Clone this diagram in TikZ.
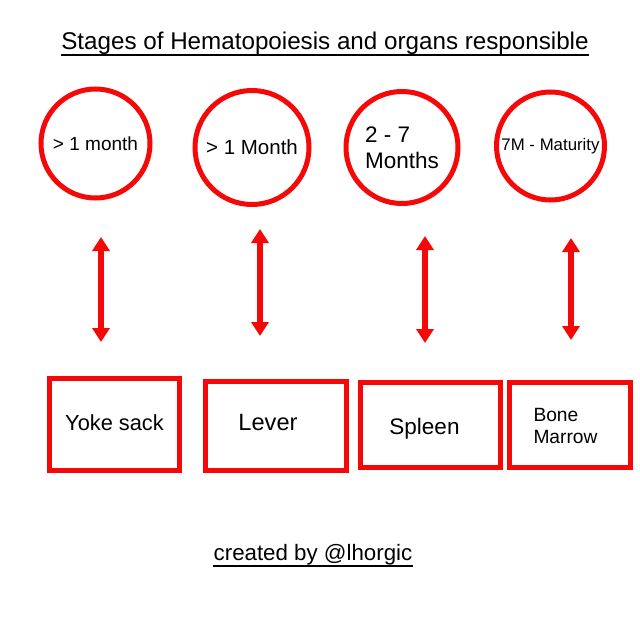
\documentclass[tikz,border=0pt]{standalone}
\usepackage{fontspec}
\setmainfont{Liberation Sans}
\usetikzlibrary{arrows.meta}
\definecolor{hemred}{RGB}{245,8,8}
\tikzset{
  stage/.style={circle, draw=hemred, line width=5pt, inner sep=0pt,
                minimum size=108pt, align=center},
  organ/.style={rectangle, draw=hemred, line width=5pt, inner sep=0pt},
  organtext/.style={inner sep=0pt, align=left},
  link/.style={{Triangle[width=17pt,length=14pt]}-{Triangle[width=17pt,length=14pt]},
               hemred, line width=6pt},
  heading/.style={inner sep=0pt, anchor=base},
}

\begin{document}
\begin{tikzpicture}[x=1pt,y=-1pt]
  \useasboundingbox (0,0) rectangle (640,640);
  % Title
  \node[heading, font=\fontsize{24.2}{28}\selectfont] (title) at (325,49)
    {Stages of Hematopoiesis and organs responsible};
  \draw[line width=1.5pt] ([yshift=-6pt]title.base west) -- ([yshift=-6pt]title.base east);
  % Stages
  \node[stage, minimum size=109pt, font=\fontsize{19}{22}\selectfont] (c1) at (95.5,143.5) {> 1 month};
  \node[stage, minimum size=114pt, font=\fontsize{20.5}{24}\selectfont] (c2) at (252,147.5) {> 1 Month};
  \node[stage, minimum size=112pt, align=left, font=\fontsize{22.5}{26}\selectfont] (c3) at (402,147.5) {2 - 7\\Months};
  \node[stage, minimum size=108pt, font=\fontsize{16.8}{20}\selectfont] (c4) at (550.5,146) {7M - Maturity};
  % Arrows
  \coordinate (a1t) at (101,237); \coordinate (a1b) at (101,342);
  \coordinate (a2t) at (260,229); \coordinate (a2b) at (260,336);
  \coordinate (a3t) at (425,236); \coordinate (a3b) at (425,343);
  \coordinate (a4t) at (571,238); \coordinate (a4b) at (571,340);
  \draw[link] (a1t) -- (a1b);
  \draw[link] (a2t) -- (a2b);
  \draw[link] (a3t) -- (a3b);
  \draw[link] (a4t) -- (a4b);
  % Organs
  \node[organ, minimum width=130pt, minimum height=92pt] (b1) at (114.5,424.5) {};
  \node[organ, minimum width=141pt, minimum height=89pt] (b2) at (276,426) {};
  \node[organ, minimum width=140pt, minimum height=85pt] (b3) at (430.5,425) {};
  \node[organ, minimum width=121pt, minimum height=85pt] (b4) at (570,425) {};
  \node[organtext, font=\fontsize{21.8}{25}\selectfont] (t1) at ([yshift=2pt]b1) {Yoke sack};
  \node[organtext, font=\fontsize{23.6}{27}\selectfont] (t2) at ([xshift=-8pt,yshift=4pt]b2) {Lever};
  \node[organtext, font=\fontsize{22.5}{26}\selectfont] (t3) at ([xshift=-6pt,yshift=-4pt]b3) {Spleen};
  \node[organtext, font=\fontsize{19.2}{22}\selectfont] (t4) at ([xshift=-4.5pt,yshift=-1pt]b4) {Bone\\Marrow};
  % Credit
  \node[heading, font=\fontsize{22.3}{26}\selectfont] (credit) at (313,560) {created by @lhorgic};
  \draw[line width=1.5pt] ([yshift=-6pt]credit.base west) -- ([yshift=-6pt]credit.base east);
\end{tikzpicture}
\end{document}
